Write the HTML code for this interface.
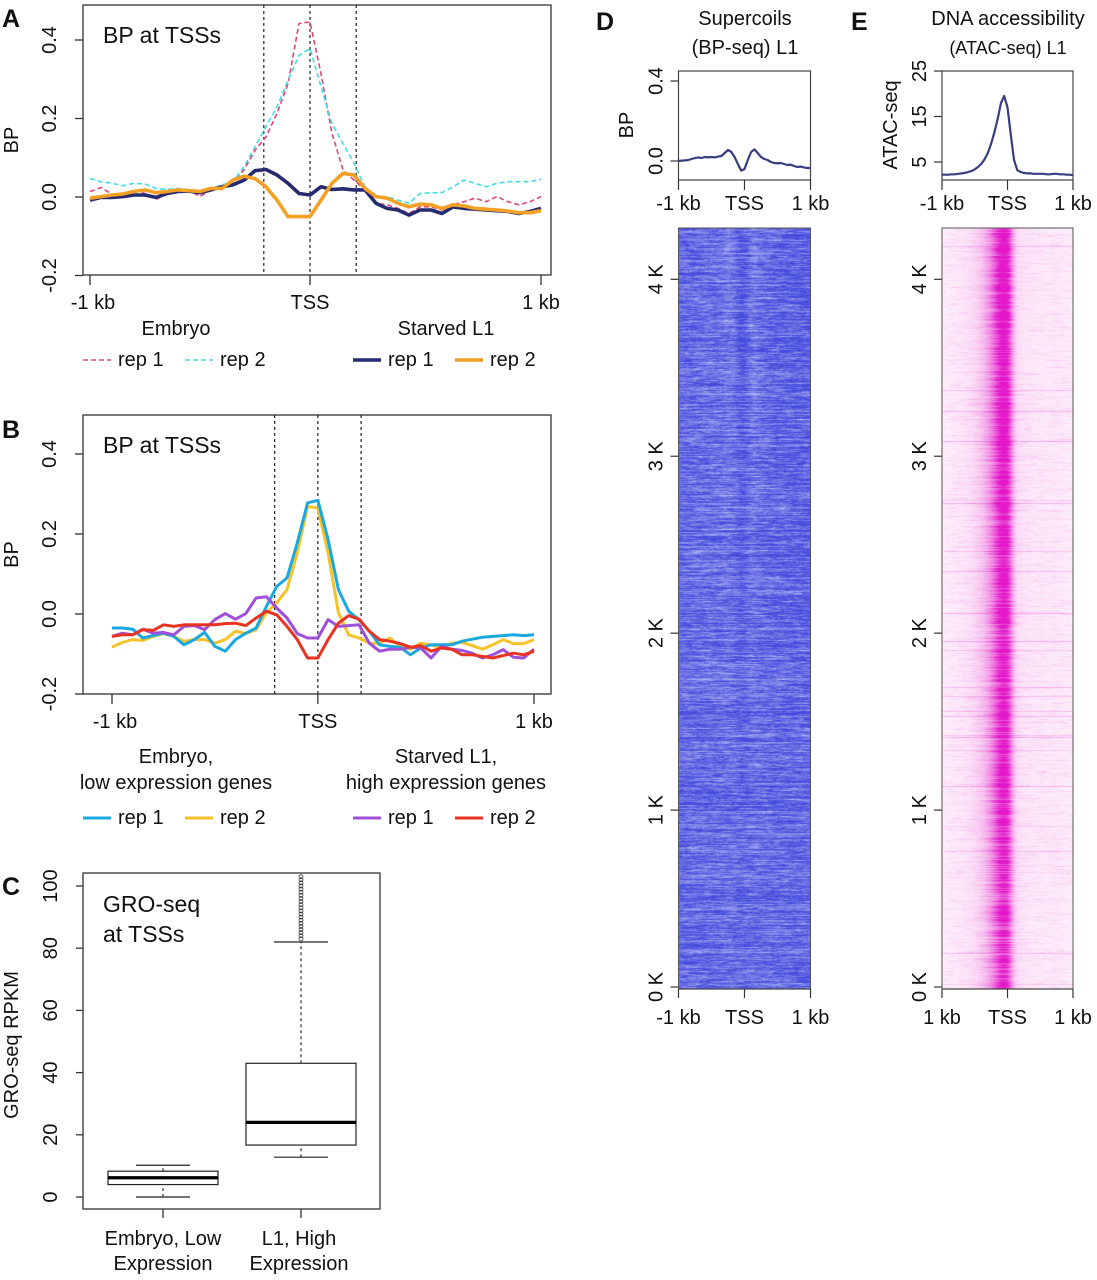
<!DOCTYPE html>
<html><head><meta charset="utf-8"><title>BP-seq figure</title>
<style>
html,body{margin:0;padding:0;background:#fff;}
#wrap{position:relative;width:1097px;height:1280px;overflow:hidden;font-family:"Liberation Sans",Arial,sans-serif;}
svg{position:absolute;left:0;top:0;}
canvas{position:absolute;}
text{font-family:"Liberation Sans",Arial,sans-serif;fill:#111;}
</style></head>
<body>
<div id="wrap">
<canvas id="hmD" width="131" height="761" style="left:679px;top:228px;width:131px;height:761px"></canvas>
<canvas id="hmE" width="131" height="761" style="left:942px;top:228px;width:131px;height:761px"></canvas>
<svg id="fig" width="1097" height="1280" xmlns="http://www.w3.org/2000/svg"></svg>
</div>
<script>
// ---------- data ----------
const binStarts = -1000, binStep = 50; // 42 bins, -1000..1050
const aEmbryoRep1 = [0.014,0.024,0.007,0.005,0.018,0.009,-0.006,0.008,0.014,0.018,0.001,0.018,0.026,0.039,0.069,0.119,0.153,0.213,0.289,0.442,0.446,0.314,0.162,0.069,0.043,0.018,-0.016,-0.020,-0.029,-0.042,-0.025,-0.025,-0.033,-0.020,-0.012,-0.003,-0.012,0.001,-0.012,-0.020,-0.012,0.001];
const aEmbryoRep2 = [0.047,0.039,0.035,0.029,0.035,0.033,0.022,0.019,0.022,0.018,0.014,0.022,0.031,0.039,0.077,0.128,0.179,0.230,0.297,0.361,0.378,0.281,0.187,0.136,0.086,0.026,0.001,0.001,-0.008,-0.016,0.009,0.011,0.011,0.026,0.043,0.035,0.026,0.035,0.039,0.039,0.039,0.045];
const aL1Rep1 = [-0.008,-0.001,-0.001,0.001,0.005,0.005,-0.001,0.009,0.014,0.015,0.011,0.018,0.026,0.031,0.043,0.067,0.070,0.056,0.035,0.009,0.005,0.026,0.019,0.021,0.018,0.018,-0.016,-0.029,-0.033,-0.046,-0.033,-0.033,-0.042,-0.025,-0.029,-0.031,-0.033,-0.035,-0.037,-0.042,-0.037,-0.029];
const aL1Rep2 = [-0.003,0.001,0.005,0.008,0.014,0.018,0.011,0.014,0.018,0.016,0.014,0.022,0.022,0.043,0.053,0.047,0.026,-0.008,-0.050,-0.050,-0.050,-0.008,0.035,0.060,0.056,0.022,0.001,-0.003,-0.016,-0.025,-0.018,-0.020,-0.029,-0.020,-0.023,-0.029,-0.031,-0.033,-0.036,-0.040,-0.040,-0.035];
const bEmbryoRep1 = [-0.035,-0.035,-0.038,-0.060,-0.054,-0.048,-0.056,-0.077,-0.064,-0.046,-0.081,-0.093,-0.064,-0.048,-0.035,0.019,0.069,0.090,0.178,0.278,0.284,0.186,0.061,0.007,-0.014,-0.043,-0.077,-0.081,-0.083,-0.102,-0.085,-0.077,-0.077,-0.077,-0.068,-0.063,-0.058,-0.056,-0.054,-0.052,-0.054,-0.052];
const bEmbryoRep2 = [-0.083,-0.071,-0.064,-0.066,-0.056,-0.049,-0.056,-0.068,-0.064,-0.064,-0.073,-0.064,-0.043,-0.049,-0.039,0.003,0.028,0.061,0.153,0.269,0.265,0.153,0.003,-0.052,-0.060,-0.073,-0.073,-0.060,-0.081,-0.088,-0.073,-0.077,-0.085,-0.073,-0.071,-0.079,-0.088,-0.077,-0.064,-0.074,-0.074,-0.064];
const bL1Rep1 = [-0.056,-0.048,-0.052,-0.038,-0.048,-0.046,-0.052,-0.031,-0.029,-0.039,-0.014,0.001,-0.013,0.001,0.040,0.043,0.015,-0.010,-0.049,-0.060,-0.060,-0.014,-0.031,-0.029,-0.027,-0.073,-0.093,-0.088,-0.088,-0.083,-0.085,-0.110,-0.081,-0.088,-0.091,-0.098,-0.110,-0.102,-0.089,-0.108,-0.110,-0.088];
const bL1Rep2 = [-0.056,-0.052,-0.052,-0.039,-0.041,-0.027,-0.031,-0.027,-0.027,-0.027,-0.027,-0.024,-0.023,-0.029,-0.010,0.007,-0.002,-0.031,-0.064,-0.110,-0.110,-0.064,-0.023,-0.004,-0.013,-0.043,-0.064,-0.068,-0.074,-0.083,-0.079,-0.093,-0.085,-0.088,-0.102,-0.102,-0.106,-0.110,-0.104,-0.098,-0.102,-0.093];
const profStart = -1000, profStep = 50; // 41 bins
const dBP = [0.000,0.002,0.003,0.005,0.010,0.015,0.018,0.015,0.020,0.018,0.020,0.018,0.022,0.025,0.040,0.055,0.045,0.020,-0.015,-0.048,-0.040,0.005,0.045,0.058,0.040,0.020,0.010,0.005,-0.005,-0.010,-0.012,-0.010,-0.015,-0.020,-0.018,-0.025,-0.030,-0.028,-0.032,-0.035,-0.035];
const eATAC = [2.2,2.2,2.2,2.3,2.3,2.4,2.5,2.6,2.8,3.0,3.4,3.9,4.6,5.6,7.0,9.0,11.5,14.5,18.0,19.5,17.0,11.0,5.5,3.2,2.8,2.6,2.5,2.5,2.4,2.4,2.4,2.4,2.3,2.3,2.4,2.4,2.3,2.3,2.2,2.2,2.1];
const boxCategories = ["Embryo, Low", "L1, High"];
const boxLowWhisker = [0, 12.8];
const boxQ1 = [4.0, 16.7];
const boxMedian = [6.2, 24.0];
const boxQ3 = [8.3, 43.0];
const boxHighWhisker = [10.2, 82.0];
const boxOutliersL1 = [83,84,85,86,87,88,89,90,91,92,93,94,95,96,97,98,99,100,101,102,103];
const lineTicksY = [-0.2, 0.0, 0.2, 0.4];
const lineTickLabelsY = ["-0.2","0.0","0.2","0.4"];
const xTickVals = [-1000, 0, 1050];
const xTickLabels = ["-1 kb","TSS","1 kb"];
const boxTicksY = [0,20,40,60,80,100];
const heatRowTicks = [0,1000,2000,3000,4000];
const heatRowLabels = ["0 K","1 K","2 K","3 K","4 K"];
const heatRowCount = 4290;

// ---------- helpers ----------
const NS = "http://www.w3.org/2000/svg";
const svg = document.getElementById("fig");
function mk(tag, attrs, parent) {
  const e = document.createElementNS(NS, tag);
  for (const k in attrs) e.setAttribute(k, attrs[k]);
  (parent || svg).appendChild(e);
  return e;
}
function txt(x, y, s, size, opts, parent) {
  opts = opts || {};
  const a = {x:x, y:y, "font-size":size, "text-anchor":opts.anchor || "middle"};
  if (opts.rot) a.transform = "rotate(-90," + x + "," + y + ")";
  if (opts.weight) a["font-weight"] = opts.weight;
  const t = mk("text", a, parent);
  t.textContent = s;
  return t;
}
function lin(d0, d1, r0, r1) { return v => r0 + (v - d0) * (r1 - r0) / (d1 - d0); }
function poly(vals, xs, ys, start, step, style, parent) {
  const pts = vals.map((v, i) => xs(start + i * step).toFixed(1) + "," + ys(v).toFixed(1)).join(" ");
  return mk("polyline", Object.assign({points: pts, fill: "none", "stroke-linejoin": "round"}, style), parent);
}

// ---------- panel letters ----------
[["A",2,27],["B",2,438],["C",2,895],["D",596,30],["E",851,30]].forEach(l => {
  const t = txt(l[1], l[2], l[0], 25, {anchor: "start", weight: "bold"});
  
  
});

// ---------- line panels A & B ----------
function linePanel(cfg) {
  const g = mk("g", {});
  
  
  const xs = lin(-1000, 1050, cfg.x0, cfg.x1050);
  const ys = lin(0, 0.2, cfg.y0, cfg.y02);
  mk("rect", {x: cfg.bx0, y: cfg.by0, width: cfg.bx1 - cfg.bx0, height: cfg.by1 - cfg.by0, fill: "none", stroke: "#333", "stroke-width": 1.3}, g);
  [-210, 0, 210].forEach(v => {
    const l = mk("line", {x1: xs(v), x2: xs(v), y1: cfg.by0, y2: cfg.by1, stroke: "#222", "stroke-width": 1.2, "stroke-dasharray": "3,3"}, g);
    
    
  });
  lineTicksY.forEach((v, i) => {
    mk("line", {x1: cfg.bx0 - 8, x2: cfg.bx0, y1: ys(v), y2: ys(v), stroke: "#333", "stroke-width": 1.3}, g);
    const t = txt(cfg.bx0 - 27, ys(v), lineTickLabelsY[i], 20, {rot: true}, g);
    
    
  });
  const yl = txt(18, (cfg.by0 + cfg.by1) / 2, "BP", 20, {rot: true}, g);
  
  
  xTickVals.forEach((v, i) => {
    mk("line", {x1: xs(v), x2: xs(v), y1: cfg.by1, y2: cfg.by1 + 10, stroke: "#333", "stroke-width": 1.3}, g);
    const t = txt(xs(v) + (i === 0 ? 3 : 0), cfg.by1 + 34, xTickLabels[i], 20, {}, g);
    
    
  });
  const title = txt(103, cfg.by0 + 38, "BP at TSSs", 23, {anchor: "start"}, g);
  
  
  cfg.series.forEach(s => {
    const p = poly(s.vals, xs, ys, binStarts, binStep, s.style, g);
    
    
  });
  cfg.groups.forEach(gr => {
    gr.lines.forEach((ln, k) => {
      const t = txt(gr.cx, gr.y + k * 26, ln, 20, {}, g);
      
      
    });
  });
  cfg.legend.forEach(le => {
    const l = mk("line", Object.assign({x1: le.x, x2: le.x + 28, y1: cfg.legY - 6, y2: cfg.legY - 6}, le.style), g);
    
    
    const t = txt(le.x + 35, cfg.legY, le.label, 20, {anchor: "start"}, g);
    
    
  });
}
const pink = {stroke: "#e0457b", "stroke-width": 1.6, "stroke-dasharray": "5,3"};
const cyan = {stroke: "#3fdde6", "stroke-width": 1.6, "stroke-dasharray": "5,3"};
const navy = {stroke: "#262a6e", "stroke-width": 3.6};
const orng = {stroke: "#f4a024", "stroke-width": 3.6};
linePanel({name: "panel-a-chart", bx0: 83, bx1: 551, by0: 5, by1: 275, x0: 90, x1050: 541, y0: 197, y02: 118.5,
  series: [
    {vals: aEmbryoRep1, style: pink, name: "line-embryo-rep1"},
    {vals: aEmbryoRep2, style: cyan, name: "line-embryo-rep2"},
    {vals: aL1Rep1, style: navy, name: "line-l1-rep1"},
    {vals: aL1Rep2, style: orng, name: "line-l1-rep2"}],
  groups: [{cx: 176, y: 335, lines: ["Embryo"]}, {cx: 446, y: 335, lines: ["Starved L1"]}],
  legY: 366,
  legend: [{x: 83, style: pink, label: "rep 1"}, {x: 185, style: cyan, label: "rep 2"},
           {x: 353, style: navy, label: "rep 1"}, {x: 455, style: orng, label: "rep 2"}]
});
const bBlue = {stroke: "#1aa8e0", "stroke-width": 3};
const bYel = {stroke: "#f5c22a", "stroke-width": 3};
const bPur = {stroke: "#a050d8", "stroke-width": 3};
const bRed = {stroke: "#e83322", "stroke-width": 3};
linePanel({name: "panel-b-chart", bx0: 83, bx1: 551, by0: 415, by1: 694, x0: 112, x1050: 534, y0: 614, y02: 534,
  series: [
    {vals: bEmbryoRep2, style: bYel, name: "line-embryo-low-rep2"},
    {vals: bEmbryoRep1, style: bBlue, name: "line-embryo-low-rep1"},
    {vals: bL1Rep1, style: bPur, name: "line-l1-high-rep1"},
    {vals: bL1Rep2, style: bRed, name: "line-l1-high-rep2"}],
  groups: [{cx: 176, y: 763, lines: ["Embryo,", "low expression genes"]}, {cx: 446, y: 763, lines: ["Starved L1,", "high expression genes"]}],
  legY: 824,
  legend: [{x: 83, style: bBlue, label: "rep 1"}, {x: 185, style: bYel, label: "rep 2"},
           {x: 353, style: bPur, label: "rep 1"}, {x: 455, style: bRed, label: "rep 2"}]
});

// ---------- panel C box plot ----------
(function () {
  const g = mk("g", {});
  
  
  const ys = lin(0, 100, 1197, 886);
  const centers = [163, 301];
  const halfW = 55;
  mk("rect", {x: 83, y: 873, width: 297, height: 336, fill: "none", stroke: "#333", "stroke-width": 1.3}, g);
  boxTicksY.forEach(v => {
    mk("line", {x1: 76, x2: 83, y1: ys(v), y2: ys(v), stroke: "#333", "stroke-width": 1.3}, g);
    const t = txt(57, ys(v), String(v), 20, {rot: true}, g);
    
    
  });
  const yt = txt(18, 1045, "GRO-seq RPKM", 20, {rot: true}, g);
  
  
  const t1 = txt(103, 912, "GRO-seq", 23, {anchor: "start"}, g);
  
  
  const t2 = txt(103, 942, "at TSSs", 23, {anchor: "start"}, g);
  
  
  const catLines = [["Embryo, Low", "Expression"], ["L1, High", "Expression"]];
  boxCategories.forEach((c, i) => {
    const cx = centers[i];
    const bg = mk("g", {}, g);
    
    
    mk("line", {x1: cx, x2: cx, y1: ys(boxLowWhisker[i]), y2: ys(boxQ1[i]), stroke: "#222", "stroke-width": 1.1, "stroke-dasharray": "3,3"}, bg);
    mk("line", {x1: cx, x2: cx, y1: ys(boxQ3[i]), y2: ys(boxHighWhisker[i]), stroke: "#222", "stroke-width": 1.1, "stroke-dasharray": "3,3"}, bg);
    mk("line", {x1: cx - 27, x2: cx + 27, y1: ys(boxLowWhisker[i]), y2: ys(boxLowWhisker[i]), stroke: "#222", "stroke-width": 1.2}, bg);
    mk("line", {x1: cx - 27, x2: cx + 27, y1: ys(boxHighWhisker[i]), y2: ys(boxHighWhisker[i]), stroke: "#222", "stroke-width": 1.2}, bg);
    mk("rect", {x: cx - halfW, y: ys(boxQ3[i]), width: 2 * halfW, height: ys(boxQ1[i]) - ys(boxQ3[i]), fill: "#fff", stroke: "#222", "stroke-width": 1.2}, bg);
    mk("line", {x1: cx - halfW, x2: cx + halfW, y1: ys(boxMedian[i]), y2: ys(boxMedian[i]), stroke: "#000", "stroke-width": 3.2}, bg);
    mk("line", {x1: cx, x2: cx, y1: 1209, y2: 1218, stroke: "#333", "stroke-width": 1.3}, g);
    catLines[i].forEach((s, k) => {
      const t = txt(cx - (i === 0 ? 0 : 2), 1245 + k * 25, s, 20, {}, g);
      
      
    });
  });
  boxOutliersL1.forEach(v => {
    const c = mk("circle", {cx: centers[1], cy: ys(v), r: 2, fill: "none", stroke: "#333", "stroke-width": 0.8}, g);
    
    
  });
})();

// ---------- panels D & E profiles ----------
function profile(cfg) {
  const g = mk("g", {});
  
  
  const xs = lin(-1000, 1000, cfg.x0, cfg.x1);
  const ys = lin(cfg.v0, cfg.v1, cfg.py0, cfg.py1);
  mk("rect", {x: cfg.x0, y: 71, width: cfg.x1 - cfg.x0, height: 109, fill: "none", stroke: "#444", "stroke-width": 1.2}, g);
  cfg.titles.forEach((s, k) => {
    const t = txt(cfg.tcx, 25 + k * 29, s, k === 0 ? cfg.t1size : cfg.t2size, {}, g);
    
    
  });
  cfg.yticks.forEach((v, i) => {
    mk("line", {x1: cfg.x0 - 8, x2: cfg.x0, y1: ys(v), y2: ys(v), stroke: "#333", "stroke-width": 1.2}, g);
    const t = txt(cfg.x0 - 16, ys(v), cfg.ylabels[i], 20, {rot: true}, g);
    
    
  });
  const yt = txt(cfg.ytx, 125, cfg.ytitle, 20, {rot: true}, g);
  
  
  [-1000, 0, 1000].forEach((v, i) => {
    mk("line", {x1: xs(v), x2: xs(v), y1: 180, y2: 190, stroke: "#333", "stroke-width": 1.2}, g);
    const t = txt(xs(v), 210, ["-1 kb", "TSS", "1 kb"][i], 20, {}, g);
    
    
  });
  const p = poly(cfg.vals, xs, ys, profStart, profStep, {stroke: "#3a3d80", "stroke-width": 2.2}, g);
  
  
  mk("rect", {x: cfg.x0, y: 228, width: cfg.x1 - cfg.x0, height: 761, fill: "none", stroke: "#555", "stroke-width": 1}, g);
  const rs = lin(0, heatRowCount, 987, 228);
  heatRowTicks.forEach((v, i) => {
    mk("line", {x1: cfg.x0 - 8, x2: cfg.x0, y1: rs(v), y2: rs(v), stroke: "#333", "stroke-width": 1.2}, g);
    const t = txt(cfg.x0 - 16, rs(v), heatRowLabels[i], 20, {rot: true}, g);
    
    
  });
  mk("line", {x1: cfg.x0, x2: cfg.x1, y1: 989, y2: 989, stroke: "#444", "stroke-width": 1.2}, g);
  [-1000, 0, 1000].forEach((v, i) => {
    mk("line", {x1: xs(v), x2: xs(v), y1: 989, y2: 998, stroke: "#333", "stroke-width": 1.2}, g);
    const t = txt(xs(v), 1024, cfg.bottomLabels[i], 20, {}, g);
    
    
  });
}
profile({name: "panel-d-bp-profile", x0: 678.5, x1: 810.5, v0: 0, v1: 0.4, py0: 161, py1: 81, vals: dBP, lineName: "bp-profile-line",
  titles: ["Supercoils", "(BP-seq) L1"], tcx: 745, t1size: 20, t2size: 20,
  yticks: [0, 0.4], ylabels: ["0.0", "0.4"], ytitle: "BP", ytx: 633, bottomLabels: ["-1 kb", "TSS", "1 kb"]});
profile({name: "panel-e-atac-profile", x0: 942, x1: 1073, v0: 5, v1: 25, py0: 162, py1: 71, vals: eATAC, lineName: "atac-profile-line",
  titles: ["DNA accessibility", "(ATAC-seq) L1"], tcx: 1008, t1size: 20, t2size: 18,
  yticks: [5, 15, 25], ylabels: ["5", "15", "25"], ytitle: "ATAC-seq", ytx: 897, bottomLabels: ["1 kb", "TSS", "1 kb"]});

// ---------- heatmaps (texture driven by profile arrays) ----------
function rng(seed) { return function () { seed |= 0; seed = seed + 0x6D2B79F5 | 0; let t = Math.imul(seed ^ seed >>> 15, 1 | seed); t = t + Math.imul(t ^ t >>> 7, 61 | t) ^ t; return ((t ^ t >>> 14) >>> 0) / 4294967296; }; }
function profAt(arr, frac) { const f = frac * (arr.length - 1); const i = Math.min(arr.length - 2, Math.floor(f)); const r = f - i; return arr[i] * (1 - r) + arr[i + 1] * r; }
(function () {
  const W = 131, H = 761;
  const cD = document.getElementById("hmD").getContext("2d");
  const imD = cD.createImageData(W, H);
  const rD = rng(7);
  for (let y = 0; y < H; y++) {
    const rowOff = (rD() - 0.5) * 0.3;
    let walk = 0;
    for (let x = 0; x < W; x++) {
      walk = walk * 0.85 + (rD() - 0.5) * 0.45;
      const prof = profAt(dBP, x / (W - 1)) * 2.5 * (1 - y / H);
      let v = 0.22 + rowOff + walk * 0.6 + prof;
      v = Math.max(0, Math.min(1, v));
      const k = (y * W + x) * 4;
      imD.data[k] = 68 + v * 150; imD.data[k + 1] = 74 + v * 150; imD.data[k + 2] = 220 + v * 30; imD.data[k + 3] = 255;
    }
  }
  cD.putImageData(imD, 0, 0);
  const cE = document.getElementById("hmE").getContext("2d");
  const imE = cE.createImageData(W, H);
  const rE = rng(11);
  for (let y = 0; y < H; y++) {
    const rowAmp = 0.6 + rE() * 0.6 + 0.25 * (1 - y / H);
    const streak = rE() < 0.04 ? 0.12 + rE() * 0.15 : 0;
    let walk = 0;
    for (let x = 0; x < W; x++) {
      walk = walk * 0.9 + (rE() - 0.5) * 0.08;
      const a = (profAt(eATAC, x / (W - 1)) - 2.2) / 17.3;
      let v = Math.pow(Math.max(0, a), 0.9) * rowAmp + 0.04 + Math.max(0, walk) + streak * (1 - a);
      v = Math.max(0, Math.min(1, v));
      const k = (y * W + x) * 4;
      imE.data[k] = 254 - v * 26; imE.data[k + 1] = 246 - v * 222; imE.data[k + 2] = 252 - v * 50; imE.data[k + 3] = 255;
    }
  }
  cE.putImageData(imE, 0, 0);
})();
</script>
</body></html>
